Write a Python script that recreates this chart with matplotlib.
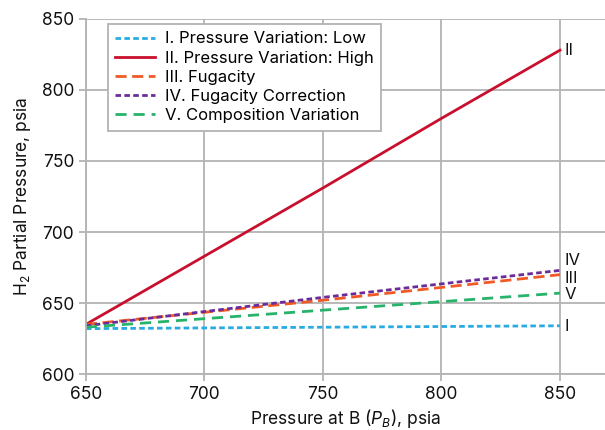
import matplotlib
matplotlib.use("Agg")
import matplotlib.pyplot as plt

plt.rcParams['font.family'] = ['Inter', 'DejaVu Sans']
plt.rcParams['mathtext.fontset'] = 'custom'
plt.rcParams['mathtext.rm'] = 'Inter'
plt.rcParams['mathtext.it'] = 'Inter:italic'

# pressure at B, psia
p_b = [650, 700, 750, 800, 850]

# H2 partial pressure, psia
low = [632, 632.5, 633, 633.5, 634]
high = [635, 683, 731, 780, 828]
fugacity = [635, 643.5, 652, 661, 670]
fug_corr = [634, 644, 654, 663.5, 673]
composition = [633, 639, 645, 651, 657]

names = ['I. Pressure Variation: Low', 'II. Pressure Variation: High',
         'III. Fugacity', 'IV. Fugacity Correction', 'V. Composition Variation']
tags = ['I', 'II', 'III', 'IV', 'V']
tag_y = [633.5, 828, 667.5, 680, 656]

fig = plt.figure(figsize=(6.05, 4.3), dpi=100)
ax = fig.add_axes([0.142, 0.13, 0.858, 0.826])

ax.plot(p_b, low, color='#29abe2', lw=2, linestyle=(0, (2, 1.2)), label=names[0])
ax.plot(p_b, high, color='#c8102e', lw=2, label=names[1])
ax.plot(p_b, fugacity, color='#f15a24', lw=2, linestyle=(0, (4, 2)), label=names[2])
ax.plot(p_b, fug_corr, color='#6a2c9a', lw=2, linestyle=(0, (2, 1.2)), label=names[3])
ax.plot(p_b, composition, color='#27b36a', lw=2, linestyle=(0, (4, 2.5)), label=names[4])

for t, y in zip(tags, tag_y):
    ax.text(852, y, t, fontsize=12, va='center', ha='left', color='#111111')

ax.set_xlim(650, 869)
ax.set_ylim(600, 850)
ax.set_xticks([650, 700, 750, 800, 850])
ax.set_yticks([600, 650, 700, 750, 800, 850])
ax.grid(True, color='#b3b3b3', lw=1.3)
ax.set_axisbelow(True)
for s in ['top', 'right']:
    ax.spines[s].set_visible(False)
for s in ['left', 'bottom']:
    ax.spines[s].set_color('#b3b3b3')
    ax.spines[s].set_linewidth(1.3)
ax.tick_params(colors='#b3b3b3', labelcolor='#111111', labelsize=12.5, length=5, width=1.3)

ax.set_xlabel('Pressure at B ($P_B$), psia', fontsize=12.5, color='#111111', labelpad=3)
ax.set_ylabel('H$_2$ Partial Pressure, psia', fontsize=12.5, color='#111111', labelpad=6)

leg = ax.legend(loc='upper left', bbox_to_anchor=(0.042, 0.986), borderaxespad=0,
                fontsize=12, fancybox=False, framealpha=1, edgecolor='#b3b3b3',
                handlelength=2.4, labelspacing=0.25, borderpad=0.45, handletextpad=0.6)
leg.get_frame().set_linewidth(1.3)

fig.savefig('out.png', dpi=100)
